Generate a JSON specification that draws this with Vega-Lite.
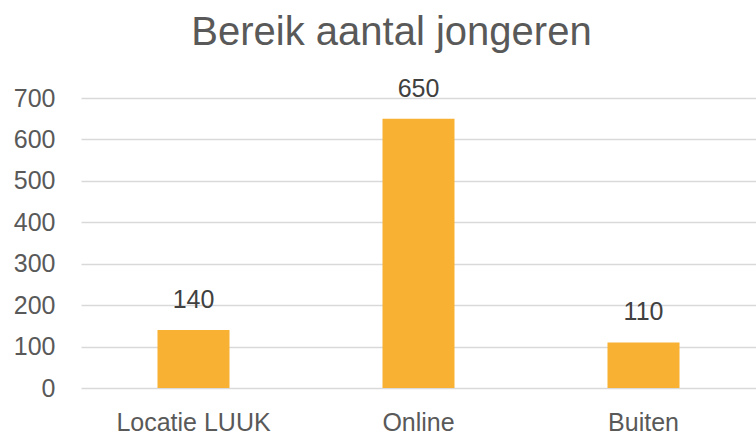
{
  "$schema": "https://vega.github.io/schema/vega-lite/v6.json",
  "autosize": {"type": "none"},
  "width": 675,
  "height": 290,
  "padding": {"left": 81, "top": 98, "right": 0, "bottom": 49},
  "background": "white",
  "title": {
    "text": "Bereik aantal jongeren",
    "font": "Liberation Sans",
    "fontSize": 40,
    "fontWeight": "normal",
    "color": "#595959",
    "anchor": "middle",
    "baseline": "alphabetic",
    "dx": -27,
    "offset": -8
  },
  "data": {
    "values": [
      {"categorie": "Locatie LUUK", "aantal": 140},
      {"categorie": "Online", "aantal": 650},
      {"categorie": "Buiten", "aantal": 110}
    ]
  },
  "config": {"view": {"stroke": null}},
  "encoding": {
    "x": {
      "field": "categorie",
      "type": "nominal",
      "sort": null,
      "scale": {"paddingInner": 0.68, "paddingOuter": 0.34},
      "axis": {
        "title": null,
        "labelAngle": 0,
        "labelFont": "Liberation Sans",
        "labelFontSize": 25,
        "labelColor": "#595959",
        "labelPadding": 22,
        "ticks": false,
        "domain": false,
        "grid": false
      }
    },
    "y": {
      "field": "aantal",
      "type": "quantitative",
      "scale": {"domain": [0, 700], "nice": false},
      "axis": {
        "title": null,
        "values": [0, 100, 200, 300, 400, 500, 600, 700],
        "labelFont": "Liberation Sans",
        "labelFontSize": 25,
        "labelColor": "#595959",
        "labelPadding": 26,
        "ticks": false,
        "domain": false,
        "grid": true,
        "gridColor": "#D9D9D9",
        "gridWidth": 1.5
      }
    }
  },
  "layer": [
    {"mark": {"type": "bar", "color": "#F8B133"}},
    {
      "mark": {
        "type": "text",
        "baseline": "alphabetic",
        "dy": -22,
        "font": "Liberation Sans",
        "fontSize": 25,
        "color": "#404040"
      },
      "encoding": {"text": {"field": "aantal", "type": "quantitative"}}
    }
  ]
}
